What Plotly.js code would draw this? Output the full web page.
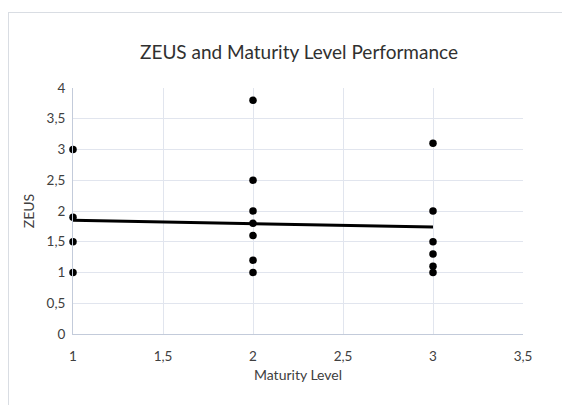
<!DOCTYPE html>
<html>
<head>
<meta charset="utf-8">
<script src="https://cdn.plot.ly/plotly-3.0.1.min.js"></script>
<style>
  html, body { margin: 0; padding: 0; background: #ffffff; overflow: hidden; width: 562px; height: 405px; }
  #frame { position: absolute; left: 8px; top: 12px; width: 554px; height: 393px; border-left: 1px solid #d9dde3; border-top: 1px solid #d9dde3; box-sizing: border-box; }
  #chart { position: absolute; left: 0; top: 0; width: 562px; height: 405px; }
</style>
</head>
<body>
<div id="frame"></div>
<div id="chart"></div>
<script>
// Data
const maturityLevel = [1, 1, 1, 1, 2, 2, 2, 2, 2, 2, 2, 3, 3, 3, 3, 3, 3];
const zeusScore     = [3.0, 1.9, 1.5, 1.0, 3.8, 2.5, 2.0, 1.8, 1.6, 1.2, 1.0, 3.1, 2.0, 1.5, 1.3, 1.1, 1.0];
const trendX = [1, 3];
const trendY = [1.85, 1.74];
const xTicks = [1, 1.5, 2, 2.5, 3, 3.5];
const yTicks = [0, 0.5, 1, 1.5, 2, 2.5, 3, 3.5, 4];

const fontFamily = 'Lato, "Open Sans", sans-serif';

const traces = [
  {
    x: trendX, y: trendY, type: 'scatter', mode: 'lines', cliponaxis: false,
    line: { color: '#000000', width: 3 }, hoverinfo: 'skip', showlegend: false
  },
  {
    x: maturityLevel, y: zeusScore, type: 'scatter', mode: 'markers', cliponaxis: false,
    marker: { color: '#000000', size: 7.5 }, showlegend: false
  }
];

const layout = {
  width: 562, height: 405,
  margin: { l: 73, r: 39, t: 88, b: 71 },
  paper_bgcolor: 'rgba(0,0,0,0)',
  plot_bgcolor: 'rgba(0,0,0,0)',
  separators: ',.',
  font: { family: fontFamily, color: '#404040', size: 13 },
  title: {
    text: 'ZEUS and Maturity Level Performance',
    font: { family: fontFamily, size: 19, color: '#303030' },
    x: 0.532, xanchor: 'center', y: 0.87, yanchor: 'middle'
  },
  xaxis: {
    range: [1, 3.5], tickvals: xTicks, ticktext: xTicks.map(v => String(v).replace('.', ',')),
    showgrid: true, gridcolor: '#e1e5ee', gridwidth: 1,
    showline: true, linecolor: '#c3cbda', linewidth: 1,
    zeroline: false, ticks: 'outside', ticklen: 10, tickcolor: 'rgba(0,0,0,0)',
    tickfont: { family: fontFamily, size: 13.5, color: '#404040' },
    title: { text: 'Maturity Level', font: { family: fontFamily, size: 14, color: '#404040' }, standoff: 6 },
    fixedrange: true
  },
  yaxis: {
    range: [0, 4], tickvals: yTicks, ticktext: yTicks.map(v => String(v).replace('.', ',')),
    showgrid: true, gridcolor: '#e1e5ee', gridwidth: 1,
    showline: true, linecolor: '#c3cbda', linewidth: 1,
    zeroline: false, ticks: 'outside', ticklen: 4, tickcolor: 'rgba(0,0,0,0)',
    tickfont: { family: fontFamily, size: 13.5, color: '#404040' },
    title: { text: 'ZEUS', font: { family: fontFamily, size: 14, color: '#404040' }, standoff: 8 },
    fixedrange: true
  },
  showlegend: false
};

Plotly.newPlot('chart', traces, layout, { displayModeBar: false, staticPlot: true });
</script>
</body>
</html>
